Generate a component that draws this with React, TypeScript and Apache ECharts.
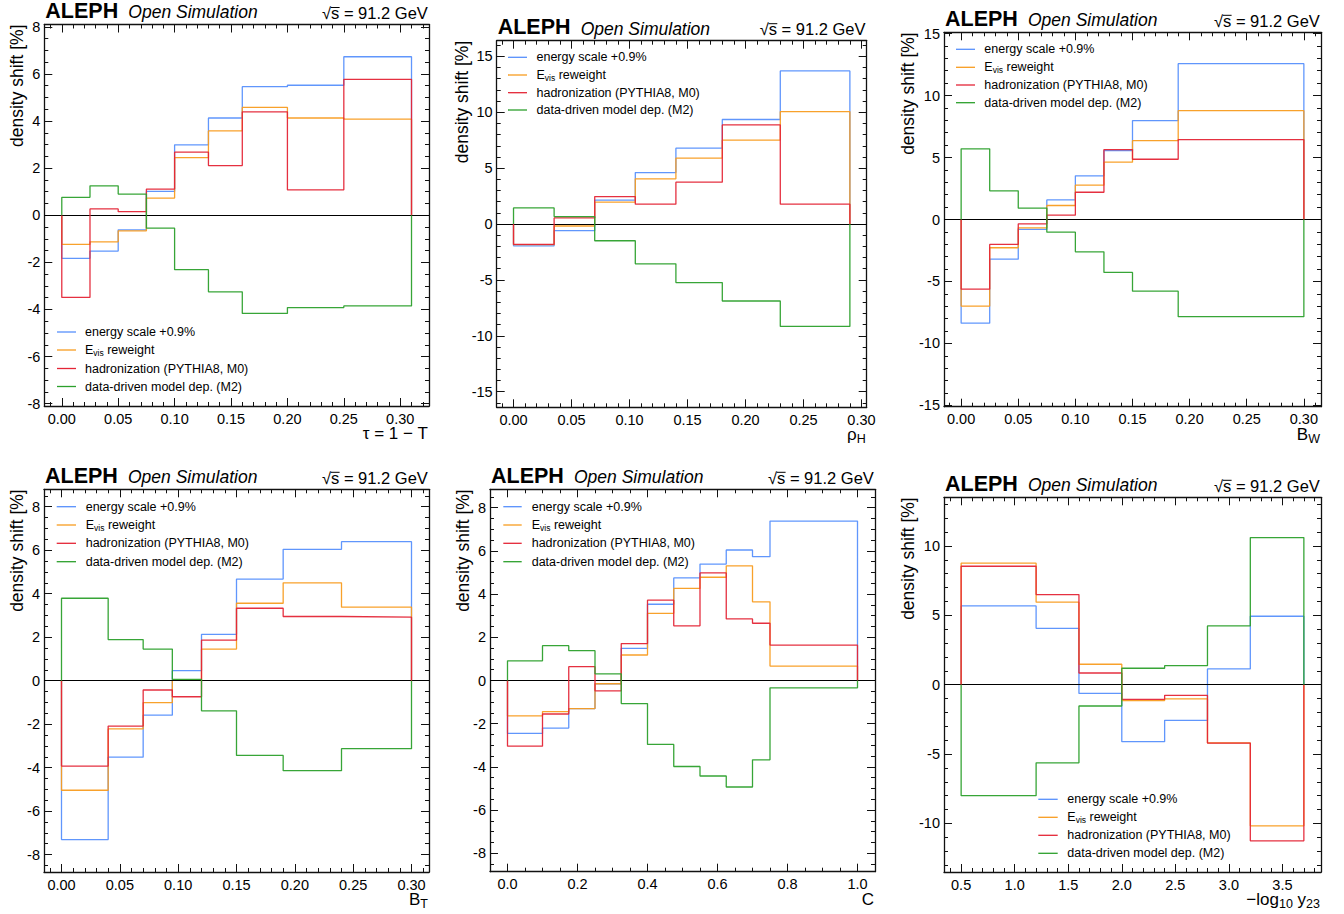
import React, { useEffect, useRef } from "react";
import * as echarts from "echarts";

const FONT = "'Liberation Sans', Arial, Helvetica, sans-serif";
const C_ENERGY = "#5790fc";
const C_EVIS = "#f89c20";
const C_HAD = "#e42536";
const C_M2 = "#2ca02c";
const SERIES_COLORS = [C_ENERGY, C_EVIS, C_HAD, C_M2];
const SERIES_NAMES = [
  "energy scale +0.9%",
  "E{sub|vis} reweight",
  "hadronization (PYTHIA8, M0)",
  "data-driven model dep. (M2)",
];

// ---- tau = 1 - T
const tauEdges = [0, 0.025, 0.05, 0.075, 0.1, 0.13, 0.16, 0.2, 0.25, 0.31];
const tauEnergy = [-1.83, -1.52, -0.62, 1.01, 2.99, 4.13, 5.46, 5.52, 6.73];
const tauEvis = [-1.24, -1.13, -0.66, 0.73, 2.45, 3.58, 4.58, 4.13, 4.08];
const tauHad = [-3.49, 0.27, 0.15, 1.11, 2.68, 2.11, 4.39, 1.08, 5.77];
const tauM2 = [0.76, 1.25, 0.9, -0.55, -2.31, -3.25, -4.17, -3.92, -3.85];

// ---- rho_H
const rhoEdges = [0, 0.035, 0.07, 0.105, 0.14, 0.18, 0.23, 0.29];
const rhoEnergy = [-1.95, -0.6, 2.13, 4.6, 6.78, 9.35, 13.7];
const rhoEvis = [-1.85, -0.18, 1.95, 4.04, 5.9, 7.5, 10.06];
const rhoHad = [-1.83, 0.54, 2.45, 1.77, 3.74, 8.86, 1.77];
const rhoM2 = [1.44, 0.66, -1.5, -3.56, -5.24, -6.89, -9.16];

// ---- B_W
const bwEdges = [0, 0.025, 0.05, 0.075, 0.1, 0.125, 0.15, 0.19, 0.3];
const bwEnergy = [-8.36, -3.2, -0.8, 1.58, 3.52, 5.56, 7.98, 12.57];
const bwEvis = [-6.99, -2.28, -0.67, 1.13, 2.77, 4.62, 6.37, 8.78];
const bwHad = [-5.62, -2.01, -0.35, 0.35, 2.2, 5.64, 4.86, 6.45];
const bwM2 = [5.7, 2.31, 0.91, -1.02, -2.61, -4.27, -5.78, -7.84];

// ---- B_T
const btEdges = [0, 0.04, 0.07, 0.095, 0.12, 0.15, 0.19, 0.24, 0.3];
const btEnergy = [-7.31, -3.52, -1.59, 0.46, 2.13, 4.67, 6.04, 6.39];
const btEvis = [-5.04, -2.22, -1.01, 0.03, 1.45, 3.56, 4.5, 3.38];
const btHad = [-3.93, -2.09, -0.43, -0.74, 1.86, 3.33, 2.95, 2.92];
const btM2 = [3.79, 1.89, 1.45, 0.06, -1.39, -3.44, -4.14, -3.13];

// ---- C parameter
const cEdges = [0, 0.1, 0.175, 0.25, 0.325, 0.4, 0.475, 0.55, 0.625, 0.7, 0.75, 1.0];
const cEnergy = [-2.45, -2.2, -1.3, -0.15, 1.49, 3.53, 4.75, 5.39, 6.04, 5.73, 7.38];
const cEvis = [-1.64, -1.44, -1.3, -0.15, 1.18, 3.11, 4.26, 4.78, 5.31, 3.64, 0.67];
const cHad = [-3.04, -1.55, 0.64, -0.48, 1.71, 3.72, 2.53, 4.98, 2.85, 2.65, 1.64];
const cM2 = [0.91, 1.61, 1.38, 0.31, -1.07, -2.96, -3.98, -4.42, -4.93, -3.67, -0.34];

// ---- -log10 y23
const y23Edges = [0.5, 1.2, 1.6, 2.0, 2.4, 2.8, 3.2, 3.7];
const y23Energy = [5.67, 4.06, -0.63, -4.11, -2.57, 1.13, 4.93];
const y23Evis = [8.75, 5.94, 1.47, -1.15, -1.03, -4.2, -10.17];
const y23Had = [8.53, 6.49, 0.84, -1.06, -0.77, -4.21, -11.25];
const y23M2 = [-8.0, -5.63, -1.54, 1.18, 1.37, 4.23, 10.6];

// ---- tick labels
const shapeTicks = [0, 0.05, 0.1, 0.15, 0.2, 0.25, 0.3];
const cTicks = [0, 0.2, 0.4, 0.6, 0.8, 1.0];
const y23Ticks = [0.5, 1.0, 1.5, 2.0, 2.5, 3.0, 3.5];
const yTicks8 = [-8, -6, -4, -2, 0, 2, 4, 6, 8];
const yTicks15 = [-15, -10, -5, 0, 5, 10, 15];
const yTicks10 = [-10, -5, 0, 5, 10];

const X_LABELS = ["τ = 1 − T", "ρ{sub|H}", "B{sub|W}", "B{sub|T}", "C", "−log{sub|10} y{sub|23}"];

type Panel = {
  edges: number[];
  vals: number[][];
  xTicks: number[];
  xMinor: number;
  xDec: number;
  yTicks: number[];
  yMinor: number;
  xMin: number;
  xMax: number;
  yMin: number;
  yMax: number;
  grid: { left: number; top: number; width: number; height: number };
  yLabelX: number;
  legend: { x1: number; x2: number; tx: number; ys: number[] };
};

const panels: Panel[] = [
  {
    edges: tauEdges, vals: [tauEnergy, tauEvis, tauHad, tauM2],
    xTicks: shapeTicks, xMinor: 0.01, xDec: 2, yTicks: yTicks8, yMinor: 0.5,
    xMin: -0.0155, xMax: 0.3255, yMin: -8.1, yMax: 8.1,
    grid: { left: 44.3, top: 24.5, width: 384.7, height: 381.5 },
    yLabelX: 17,
    legend: { x1: 57, x2: 76, tx: 85, ys: [332, 350, 368.5, 386.5] },
  },
  {
    edges: rhoEdges, vals: [rhoEnergy, rhoEvis, rhoHad, rhoM2],
    xTicks: shapeTicks, xMinor: 0.01, xDec: 2, yTicks: yTicks15, yMinor: 1,
    xMin: -0.0145, xMax: 0.3045, yMin: -16.4, yMax: 16.4,
    grid: { left: 496.7, top: 40.7, width: 370, height: 366.6 },
    yLabelX: 462,
    legend: { x1: 508, x2: 527, tx: 536.5, ys: [57.3, 75, 92.7, 110] },
  },
  {
    edges: bwEdges, vals: [bwEnergy, bwEvis, bwHad, bwM2],
    xTicks: shapeTicks, xMinor: 0.01, xDec: 2, yTicks: yTicks15, yMinor: 1,
    xMin: -0.015, xMax: 0.315, yMin: -15.1, yMax: 15.1,
    grid: { left: 944, top: 32.3, width: 377, height: 374.4 },
    yLabelX: 908,
    legend: { x1: 956, x2: 975, tx: 984.3, ys: [49.3, 67.3, 85, 102.7] },
  },
  {
    edges: btEdges, vals: [btEnergy, btEvis, btHad, btM2],
    xTicks: shapeTicks, xMinor: 0.01, xDec: 2, yTicks: yTicks8, yMinor: 0.5,
    xMin: -0.015, xMax: 0.315, yMin: -8.8, yMax: 8.8,
    grid: { left: 44, top: 489.3, width: 385, height: 382.7 },
    yLabelX: 17,
    legend: { x1: 56.7, x2: 76, tx: 85.7, ys: [506.7, 525, 543.3, 561.7] },
  },
  {
    edges: cEdges, vals: [cEnergy, cEvis, cHad, cM2],
    xTicks: cTicks, xMinor: 0.05, xDec: 1, yTicks: yTicks8, yMinor: 0.5,
    xMin: -0.05, xMax: 1.05, yMin: -8.85, yMax: 8.85,
    grid: { left: 490, top: 489.3, width: 385, height: 382.4 },
    yLabelX: 463,
    legend: { x1: 503.3, x2: 521.7, tx: 531.7, ys: [506.7, 525, 543.3, 561.7] },
  },
  {
    edges: y23Edges, vals: [y23Energy, y23Evis, y23Had, y23M2],
    xTicks: y23Ticks, xMinor: 0.1, xDec: 1, yTicks: yTicks10, yMinor: 1,
    xMin: 0.34, xMax: 3.86, yMin: -13.5, yMax: 13.5,
    grid: { left: 944, top: 497.3, width: 377, height: 374.7 },
    yLabelX: 908,
    legend: { x1: 1038.3, x2: 1057.7, tx: 1067.3, ys: [799.3, 817.3, 835.3, 853.3] },
  },
];

function minorValues(min: number, max: number, step: number): number[] {
  const out: number[] = [];
  const k0 = Math.ceil(min / step - 1e-9);
  const k1 = Math.floor(max / step + 1e-9);
  for (let k = k0; k <= k1; k++) out.push(Math.round(k * step * 1e6) / 1e6);
  return out;
}

function stepOutline(edges: number[], vals: number[]): number[][] {
  const pts: number[][] = [[edges[0], 0]];
  vals.forEach((v, i) => {
    pts.push([edges[i], v]);
    pts.push([edges[i + 1], v]);
  });
  pts.push([edges[edges.length - 1], 0]);
  return pts;
}

function mkAxis(
  gridIndex: number,
  min: number,
  max: number,
  position: string,
  values: number[],
  len: number,
  showLine: boolean,
  label: null | { formatter: (v: number) => string; margin: number }
) {
  return {
    type: "value",
    gridIndex,
    min,
    max,
    position,
    silent: true,
    splitLine: { show: false },
    splitArea: { show: false },
    minorTick: { show: false },
    minorSplitLine: { show: false },
    axisLine: { show: showLine, onZero: false, lineStyle: { color: "#111", width: 1.3 } },
    axisTick: {
      show: true,
      inside: true,
      length: len,
      customValues: values,
      lineStyle: { color: "#111", width: 1 },
    },
    axisLabel: label
      ? {
          show: true,
          customValues: values,
          formatter: label.formatter,
          margin: label.margin,
          color: "#000",
          fontSize: 14.5,
          fontFamily: FONT,
        }
      : { show: false },
  };
}

function buildOption() {
  const grids: any[] = [];
  const xAxes: any[] = [];
  const yAxes: any[] = [];
  const series: any[] = [];
  const graphics: any[] = [];

  panels.forEach((p, gi) => {
    const g = p.grid;
    grids.push({ left: g.left, top: g.top, width: g.width, height: g.height, containLabel: false });

    const xMinorVals = minorValues(p.xMin, p.xMax, p.xMinor);
    const yMinorVals = minorValues(p.yMin, p.yMax, p.yMinor);
    const xi = xAxes.length;
    const yi = yAxes.length;
    const xFmt = (v: number) => v.toFixed(p.xDec);
    const yFmt = (v: number) => String(Math.round(v));

    xAxes.push(mkAxis(gi, p.xMin, p.xMax, "bottom", p.xTicks, 8, true, { formatter: xFmt, margin: 5 }));
    xAxes.push(mkAxis(gi, p.xMin, p.xMax, "bottom", xMinorVals, 4, false, null));
    xAxes.push(mkAxis(gi, p.xMin, p.xMax, "top", p.xTicks, 8, true, null));
    xAxes.push(mkAxis(gi, p.xMin, p.xMax, "top", xMinorVals, 4, false, null));

    yAxes.push(mkAxis(gi, p.yMin, p.yMax, "left", p.yTicks, 8, true, { formatter: yFmt, margin: 4 }));
    yAxes.push(mkAxis(gi, p.yMin, p.yMax, "left", yMinorVals, 4, false, null));
    yAxes.push(mkAxis(gi, p.yMin, p.yMax, "right", p.yTicks, 8, true, null));
    yAxes.push(mkAxis(gi, p.yMin, p.yMax, "right", yMinorVals, 4, false, null));

    p.vals.forEach((vals, si) => {
      const s: any = {
        type: "line",
        name: SERIES_NAMES[si],
        xAxisIndex: xi,
        yAxisIndex: yi,
        data: stepOutline(p.edges, vals),
        symbol: "none",
        showSymbol: false,
        silent: true,
        clip: true,
        lineStyle: { color: SERIES_COLORS[si], width: 1.3, opacity: 0.95 },
        itemStyle: { color: SERIES_COLORS[si] },
        z: 3 + si,
      };
      if (si === 0) {
        s.markLine = {
          silent: true,
          symbol: "none",
          label: { show: false },
          lineStyle: { color: "#000", width: 1, type: "solid" },
          data: [{ yAxis: 0 }],
        };
      }
      series.push(s);
    });

    // header
    const base = g.top - 6;
    const right = g.left + g.width;
    graphics.push({
      type: "text", x: g.left + 1, y: base - 0.3465 * 21.5,
      style: { text: "ALEPH", fontSize: 21.5, lineHeight: 20, fontWeight: "bold", fontFamily: FONT, fill: "#000", verticalAlign: "middle" },
    });
    graphics.push({
      type: "text", x: g.left + 84, y: base - 0.3465 * 17.5,
      style: { text: "Open Simulation", fontSize: 17.5, lineHeight: 18, fontStyle: "italic", fontFamily: FONT, fill: "#000", verticalAlign: "middle" },
    });
    const x0 = right - 107;
    graphics.push({
      type: "text", x: x0, y: base + 0.5 - 0.3465 * 16.5,
      style: { text: "√s = 91.2 GeV", fontSize: 16.5, lineHeight: 17, fontFamily: FONT, fill: "#000", verticalAlign: "middle" },
    });
    graphics.push({
      type: "line",
      shape: { x1: x0 + 8.8, y1: base - 11, x2: x0 + 17.6, y2: base - 11 },
      style: { stroke: "#000", lineWidth: 1 },
    });

    // y-axis title
    graphics.push({
      type: "text", x: p.yLabelX, y: g.top, rotation: Math.PI / 2,
      style: { text: "density shift [%]", fontSize: 17.5, fontFamily: FONT, fill: "#000", align: "right", verticalAlign: "middle" },
    });

    // x-axis title
    graphics.push({
      type: "text", x: right - 1, y: g.top + g.height + 27.5,
      style: {
        text: X_LABELS[gi], fontSize: 17, fontFamily: FONT, fill: "#000", align: "right", verticalAlign: "middle",
        rich: { sub: { fontSize: 12.5, fontFamily: FONT, fill: "#000", padding: [9, 0, 0, 0] } },
      },
    });

    // legend
    p.legend.ys.forEach((ly, si) => {
      graphics.push({
        type: "line",
        shape: { x1: p.legend.x1, y1: ly, x2: p.legend.x2, y2: ly },
        style: { stroke: SERIES_COLORS[si], lineWidth: 1.3 },
      });
      graphics.push({
        type: "text", x: p.legend.tx, y: ly,
        style: {
          text: SERIES_NAMES[si], fontSize: 12.5, fontFamily: FONT, fill: "#000", verticalAlign: "middle",
          rich: { sub: { fontSize: 8.5, fontFamily: FONT, fill: "#000", padding: [6, 0, 0, 0] } },
        },
      });
    });
  });

  return {
    animation: false,
    backgroundColor: "#ffffff",
    grid: grids,
    xAxis: xAxes,
    yAxis: yAxes,
    series,
    graphic: { elements: graphics },
  };
}

export default function App() {
  const ref = useRef<HTMLDivElement | null>(null);
  useEffect(() => {
    if (!ref.current) return;
    const chart = echarts.init(ref.current, undefined, { renderer: "svg" });
    chart.setOption(buildOption() as any);
    return () => chart.dispose();
  }, []);
  return (
    <div
      ref={ref}
      style={{ position: "absolute", left: 0, top: 0, width: 1344, height: 914, background: "#fff" }}
    />
  );
}
